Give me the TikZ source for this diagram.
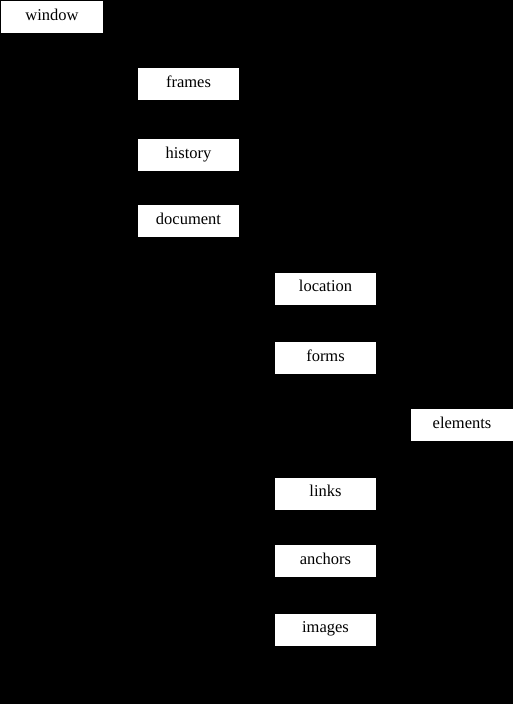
\documentclass[tikz,border=0pt]{standalone}
\usepackage{fontspec}
\setmainfont{Liberation Serif}
\begin{document}
\begin{tikzpicture}[x=1pt,y=-1pt,
  box/.style={fill=white,draw=none,minimum width=101pt,minimum height=32pt,inner sep=0pt,text height=11pt,text depth=4.5pt,font=\fontsize{16.5}{18}\selectfont},
  link/.style={draw=black,line width=1pt}]
\fill[black] (0,0) rectangle (513,704);
\useasboundingbox (0,0) rectangle (513,704);
\node[box,minimum width=102pt] (window) at (52,17) {window};
\node[box] (frames) at (188.5,84) {frames};
\node[box] (history) at (188.5,155) {history};
\node[box] (document) at (188.5,221) {document};
\node[box] (location) at (325.5,288.5) {location};
\node[box] (forms) at (325.5,358) {forms};
\node[box,minimum width=102pt] (elements) at (462,425) {elements};
\node[box] (links) at (325.5,493.5) {links};
\node[box] (anchors) at (325.5,561) {anchors};
\node[box] (images) at (325.5,629.5) {images};
\draw[link] (window.south) |- (frames.west);
\draw[link] (window.south) |- (history.west);
\draw[link] (window.south) |- (document.west);
\draw[link] (document.south) |- (location.west);
\draw[link] (document.south) |- (forms.west);
\draw[link] (document.south) |- (links.west);
\draw[link] (document.south) |- (anchors.west);
\draw[link] (document.south) |- (images.west);
\draw[link] (forms.south) |- (elements.west);
\end{tikzpicture}
\end{document}
